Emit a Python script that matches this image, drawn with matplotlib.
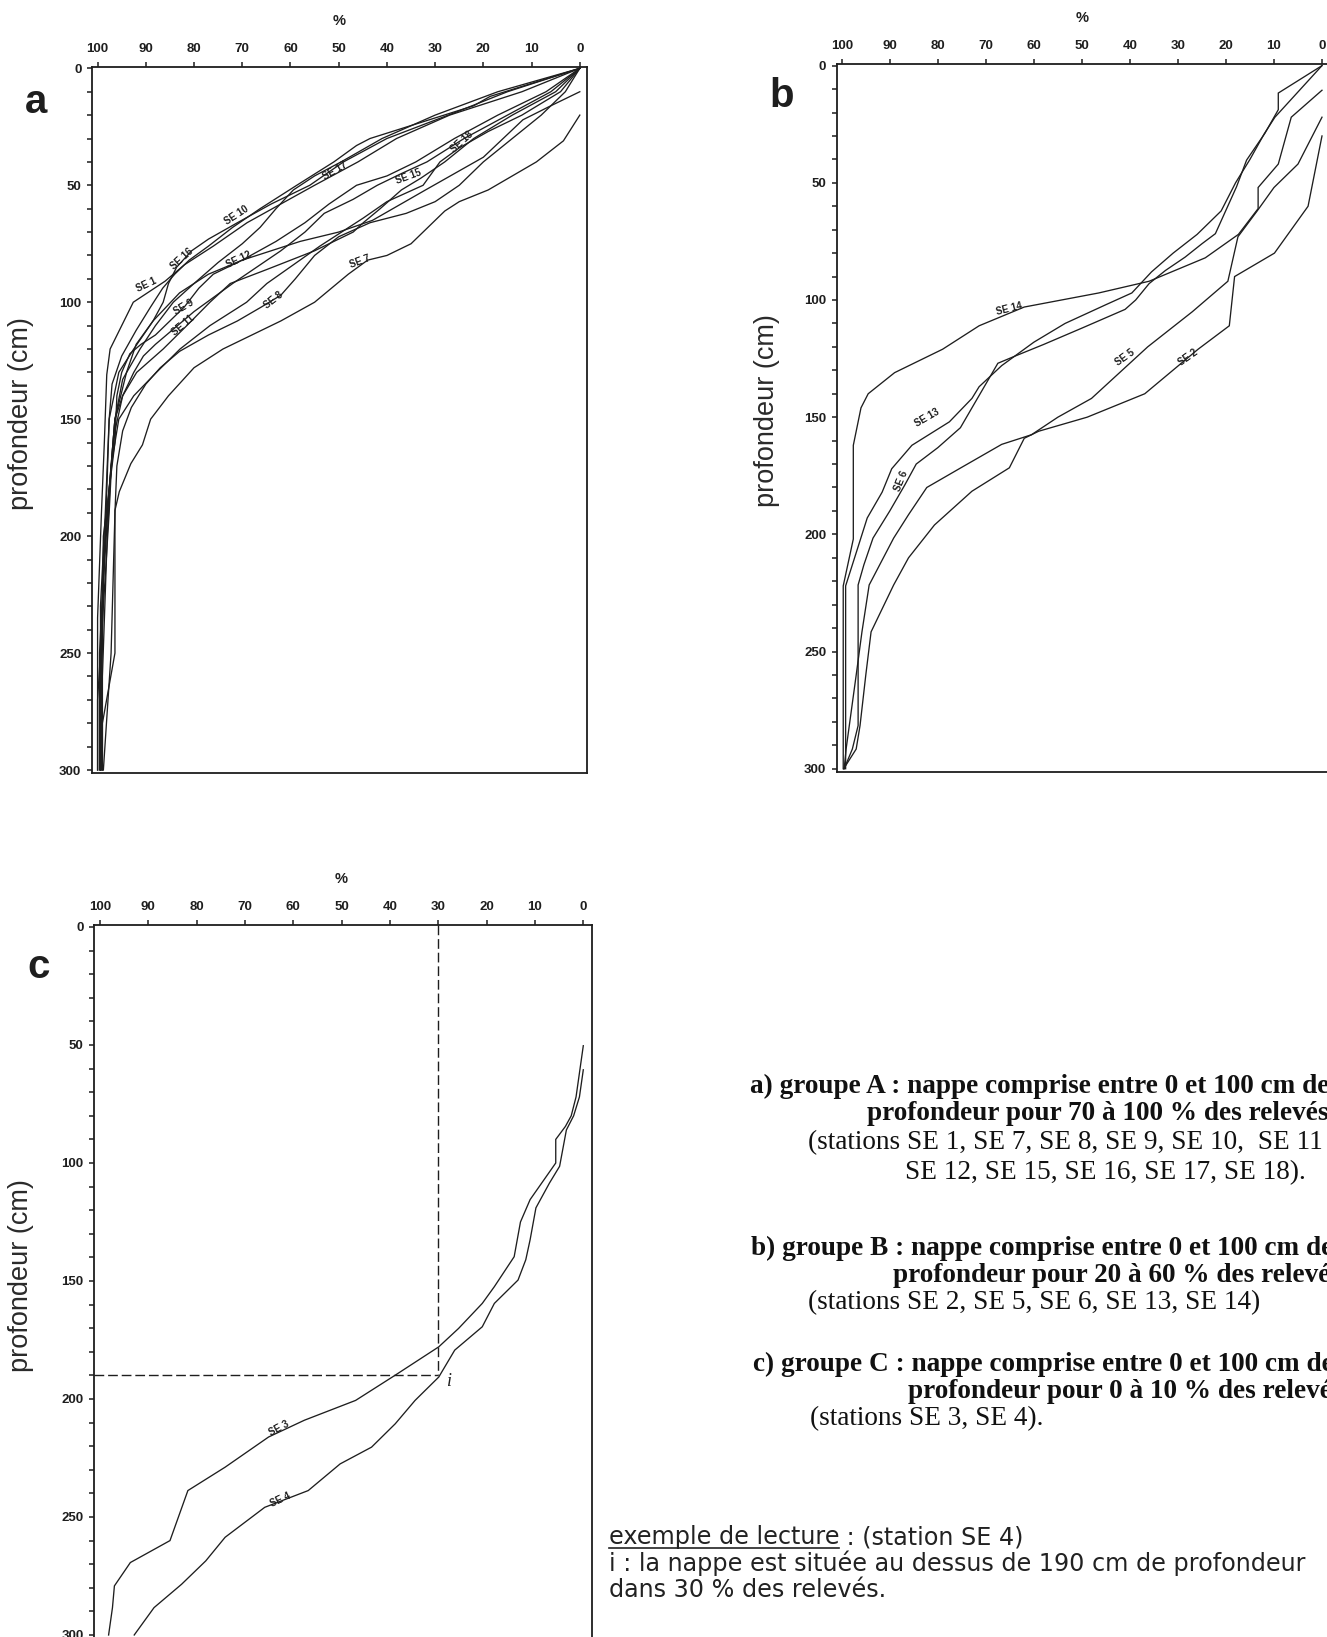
import matplotlib
matplotlib.use("Agg")
import matplotlib.pyplot as plt
from matplotlib.ticker import MultipleLocator
from matplotlib.lines import Line2D

plt.rcParams["font.family"] = ["Liberation Sans", "DejaVu Sans"]

# ---------------- panel a : groupe A (% of readings, depth in cm) ----------------
a_se1_pct = [0, 12, 27, 38, 46, 55, 62, 69, 76, 82, 86, 92.6, 97.4, 98.1, 98.6, 99.2, 100, 100]
a_se1_depth = [0, 10, 20, 30, 40, 50, 58, 66, 76, 84, 91, 100, 120, 131, 160, 190, 235, 300]
a_se7_pct = [0, 3.4, 9, 14, 19, 25, 28, 31, 35, 40, 44, 48, 55, 62, 68, 74, 80, 85.3, 89,
             90.7, 93.1, 95.5, 96.4, 96.4, 99, 99]
a_se7_depth = [20, 31, 40, 46, 52, 57, 61, 67, 75, 80, 82, 88, 100, 108, 114, 120, 128, 140, 150,
               161, 169, 181, 189, 250, 280, 300]
a_se8_pct = [0, 3, 8, 14, 20, 25, 30, 36, 43.5, 50, 55, 59, 62, 66, 71, 77, 83, 87, 90, 93, 94.8,
             96, 96.4, 97.2, 98.8]
a_se8_depth = [0, 10, 20, 30, 40, 50, 57, 62, 66, 72, 80, 90, 97, 102, 108, 114, 121, 128, 135, 145,
               155, 170, 190, 250, 300]
a_se9_pct = [0, 7, 17, 26, 34, 40, 46.3, 52, 57, 63, 70, 76, 79, 82, 85, 88, 91, 93.3, 95, 96, 96.4,
             97.6, 98.8, 99.4, 99.4]
a_se9_depth = [0, 10, 20, 30, 40, 46, 50, 58, 66, 74, 82, 88, 94, 102, 108, 114, 118, 122, 130, 140,
               160, 180, 210, 260, 300]
a_se10_pct = [0, 18.6, 22, 43.5, 46.3, 51, 58.7, 66.3, 72, 77, 81, 84, 86.5, 89, 92, 95, 97, 97.6,
              98.4, 99.4, 99.4]
a_se10_depth = [0, 12, 16, 30, 33, 40, 50, 60, 68, 76, 82, 88, 94, 102, 112, 123, 135, 150, 190, 230, 300]
a_se11_pct = [0, 6, 15, 24, 31.7, 37, 42, 47, 53, 57, 62, 67, 72, 76, 80, 84, 88, 90.5, 92.5, 94.8,
              96.4, 97, 97.6, 98.8, 100, 100]
a_se11_depth = [0, 10, 20, 30, 40, 45, 50, 56, 62, 70, 78, 85, 92, 98, 104, 111, 118, 123, 130, 140,
                150, 165, 190, 230, 270, 300]
a_se12_pct = [0, 6, 11.8, 20, 32, 43, 50, 58, 64, 70, 77, 83, 88.5, 92.5, 95.6, 97.6, 98.4, 99.4, 99.4]
a_se12_depth = [10, 16, 22, 38, 52, 65, 70, 74, 78, 82, 88, 96, 108, 120, 130, 150, 200, 250, 300]
a_se15_pct = [0, 5, 14, 22, 28, 33, 37, 41.4, 44.9, 47, 55, 64.9, 72.5, 76.7, 81.5, 86.4, 91.9, 94.8,
              96.4, 97.6, 98.8, 99.4]
a_se15_depth = [0, 10, 20, 30, 40, 47, 52, 60, 66, 70, 78, 86, 92, 100, 110, 120, 130, 140, 155, 180,
                220, 300]
a_se16_pct = [0, 15, 26, 40, 49, 56, 64, 71, 77, 80.5, 83.6, 85.3, 86.4, 88.5, 92, 94, 96.4, 97.6,
              98.8, 99.2, 99.2]
a_se16_depth = [0, 10, 19, 30, 40, 50, 58, 66, 73, 78, 85, 92, 100, 108, 118, 130, 150, 180, 200, 250, 300]
a_se17_pct = [0, 17, 30, 41, 49.5, 55, 59.4, 63, 66.3, 70, 75, 80, 84.3, 88, 91.2, 94.8, 96.4, 97.2,
              98.4, 99.6, 99.6]
a_se17_depth = [0, 10, 20, 30, 40, 46, 52, 60, 68, 75, 83, 92, 100, 110, 120, 133, 150, 170, 200, 250, 300]
a_se18_pct = [0, 4, 12, 19, 25, 29, 32.5, 40, 44.9, 53.9, 59.4, 64.9, 69.1, 76.7, 82.9, 87.8, 92.5,
              95.6, 97.2, 98, 99, 99]
a_se18_depth = [0, 10, 20, 27, 34, 40, 50, 57, 64, 76, 84, 92, 100, 110, 120, 130, 140, 150, 170, 200,
                260, 300]

# ---------------- panel b : groupe B ----------------
b_se2_pct = [0, 2.9, 9.9, 18.2, 19.3, 25.8, 36.9, 48.9, 59, 62, 65.1, 72.9, 80.7, 86.1, 89.2, 93.9,
             95, 96.2, 97, 99.6]
b_se2_depth = [30, 60, 80, 90, 111, 121, 140, 150, 156, 159, 171.6, 181.6, 196, 210, 221.6, 241.6,
               260, 281.6, 291.6, 300]
b_se5_pct = [0, 5, 10, 13.5, 17.5, 19.6, 27, 36.3, 48, 55, 60.5, 66.7, 75.2, 82.3, 86.1, 89.2, 94.3,
             95.8, 97, 99.1, 99.5]
b_se5_depth = [22, 42, 52, 62, 73, 92, 105, 120, 142, 150, 157.5, 161.6, 171.6, 180, 191.6, 201.6,
               221.6, 241.6, 260, 291.6, 300]
b_se6_pct = [0, 9.1, 9.1, 11.9, 15.7, 17.8, 22.2, 25, 28.5, 32.6, 36, 38.8, 41, 50, 58, 64, 67.5,
             75.3, 80, 84.5, 86.9, 90, 93.5, 95.4, 96.6, 96.6, 97.8, 99.5]
b_se6_depth = [0, 11.7, 18.8, 28.9, 40.3, 51.7, 71.7, 76, 81.7, 87.4, 93, 100, 104, 112, 119, 124, 127,
               154.5, 163, 170, 179, 190, 201.6, 213, 221.6, 281.6, 291.6, 300]
b_se13_pct = [0, 9.8, 12, 15, 18, 21, 26, 31, 35.5, 39.6, 45, 53.5, 60, 66.7, 71.4, 72.9, 77.6, 85.4,
              89.6, 91.6, 94.7, 97.8, 99.2, 99.2]
b_se13_depth = [0, 22, 29, 40, 50, 62, 72, 80, 88, 97, 102, 110, 118, 128, 137, 142, 152, 162, 172,
                182, 193, 213, 222, 300]
b_se14_pct = [0, 6.4, 9.1, 13.3, 13.3, 17.4, 24.3, 36, 46.5, 62, 71.4, 79, 89, 94.5, 96, 97.6, 97.6,
              99.7, 99.7]
b_se14_depth = [10.5, 22, 42, 52, 61, 72, 82, 92, 97, 103, 111, 121, 131, 140, 146, 162, 202, 222, 300]

# ---------------- panel c : groupe C ----------------
c_se3_pct = [0, 1.5, 2.5, 3.7, 5.7, 5.7, 11, 13, 14.3, 18.4, 20.9, 25.8, 29.9, 38.9, 47.1, 57.7, 65.1,
             74.1, 81.8, 85.5, 93.7, 97, 97.4, 98.2]
c_se3_depth = [50.3, 72, 80, 84.5, 90, 100, 115.5, 125, 139.7, 152.4, 159.5, 170.1, 177.9, 189.9,
               200.6, 209, 216.1, 228.9, 238.8, 260, 269.3, 279.2, 288.4, 300]
c_se4_pct = [0, 0.8, 2, 3.5, 4.9, 7, 9.8, 11, 11.9, 13.5, 18.4, 20.9, 26.6, 29.9, 34.8, 38.9, 43.8,
             50.3, 56.9, 65.9, 74.1, 78.1, 83.1, 88.8, 92.9]
c_se4_depth = [60.5, 72, 80, 86, 101.4, 108.5, 119, 132.5, 141, 149.6, 159.5, 169.4, 179.3, 190.7,
               200.6, 210.5, 220.4, 227.5, 238.8, 245.9, 258.6, 268.6, 278.5, 288.4, 300]

# reading example (station SE 4)
read_pct = 30
read_depth = 190

W, H = 1327, 1637
INK = "#1e1e1e"
fig = plt.figure(figsize=(W / 100, H / 100), dpi=100)


def add_panel(left, top, right, bottom, xlim, ylim):
    ax = fig.add_axes([left / W, 1 - bottom / H, (right - left) / W, (bottom - top) / H])
    ax.set_xlim(*xlim)
    ax.set_ylim(*ylim)
    ax.xaxis.tick_top()
    ax.xaxis.set_major_locator(MultipleLocator(10))
    ax.yaxis.set_major_locator(MultipleLocator(50))
    ax.yaxis.set_minor_locator(MultipleLocator(10))
    ax.tick_params(axis="both", which="both", direction="out", length=3.5, width=1.1,
                   color=INK, labelsize=9.5, labelcolor=INK)
    ax.tick_params(axis="x", pad=5)
    ax.tick_params(axis="y", pad=4)
    for lab in ax.get_xticklabels() + ax.get_yticklabels():
        lab.set_fontweight("bold")
    for s in ax.spines.values():
        s.set_linewidth(1.3)
        s.set_color(INK)
    ax.annotate("%", xy=(50, 1), xycoords=("data", "axes fraction"), xytext=(0, 46),
                textcoords="offset pixels", ha="center", va="center", fontsize=10.5,
                fontweight="bold", color=INK)
    return ax


def curve(ax, pct, depth, label=None, lx=None, ly=None, rot=0):
    ax.plot(pct, depth, color=INK, lw=0.95, solid_joinstyle="miter")
    if label:
        ax.text(lx, ly, label, fontsize=7, fontweight="bold", rotation=rot,
                ha="center", va="center", color=INK)


def fig_text(x, y, s, **kw):
    return fig.text(x / W, 1 - y / H, s, **kw)


# ---- panel a ----
ax_a = add_panel(91.8, 66.7, 586.7, 773.3, (101.2, -1.43), (301.4, -0.7))
curve(ax_a, a_se1_pct, a_se1_depth, "SE 1", 89.8, 92.7, 25)
curve(ax_a, a_se7_pct, a_se7_depth, "SE 7", 45.6, 82.7, 20)
curve(ax_a, a_se8_pct, a_se8_depth, "SE 8", 63.6, 99, 38)
curve(ax_a, a_se9_pct, a_se9_depth, "SE 9", 82.2, 101.9, 30)
curve(ax_a, a_se10_pct, a_se10_depth, "SE 10", 71.2, 62.8, 33)
curve(ax_a, a_se11_pct, a_se11_depth, "SE 11", 82.2, 109.7, 40)
curve(ax_a, a_se12_pct, a_se12_depth, "SE 12", 70.8, 82, 25)
curve(ax_a, a_se15_pct, a_se15_depth, "SE 15", 35.6, 46.5, 20)
curve(ax_a, a_se16_pct, a_se16_depth, "SE 16", 82.6, 81.3, 42)
curve(ax_a, a_se17_pct, a_se17_depth, "SE 17", 50.8, 43.6, 30)
curve(ax_a, a_se18_pct, a_se18_depth, "SE 18", 24.5, 31.6, 42)

# ---- panel b (right edge runs off the sheet) ----
ax_b = add_panel(836.6, 64.0, 1329.0, 772.0, (101.08, -1.46), (301.4, -0.7))
curve(ax_b, b_se2_pct, b_se2_depth, "SE 2", 27.9, 124.5, 35)
curve(ax_b, b_se5_pct, b_se5_depth, "SE 5", 41.1, 124.5, 35)
curve(ax_b, b_se6_pct, b_se6_depth, "SE 6", 87.7, 177.3, 68)
curve(ax_b, b_se13_pct, b_se13_depth, "SE 13", 82.2, 150.2, 30)
curve(ax_b, b_se14_pct, b_se14_depth, "SE 14", 65.2, 103.8, 14)

# ---- panel c ----
ax_c = add_panel(94.1, 925.3, 592.0, 1639.0, (101.2, -1.8), (301.7, -0.72))
curve(ax_c, c_se3_pct, c_se3_depth, "SE 3", 63, 212.4, 28)
curve(ax_c, c_se4_pct, c_se4_depth, "SE 4", 62.6, 242.8, 25)
ax_c.plot([read_pct, read_pct], [ax_c.get_ylim()[1], read_depth], color=INK, lw=1.0,
          dashes=(7, 2.8))
ax_c.plot([ax_c.get_xlim()[0], read_pct], [read_depth, read_depth], color=INK, lw=1.0,
          dashes=(7, 2.8))
ax_c.text(read_pct - 2.3, read_depth + 2.5, "i", fontsize=13, style="italic",
          family=["Liberation Serif"], ha="center", va="center", color=INK)

# ---- panel letters and depth labels ----
for (x, y, s) in [(36, 102, "a"), (782, 96, "b"), (39, 967, "c")]:
    fig_text(x, y, s, fontsize=29, fontweight="bold", ha="center", va="center", color=INK)
for (x, y) in [(21, 414), (767, 411), (21, 1276)]:
    fig_text(x, y, "profondeur (cm)", fontsize=19.5, rotation=90, ha="center", va="center",
             color="#2a2a2a")

# ---- legend text ----
serif = ["Liberation Serif", "DejaVu Serif"]
blocks = [
    (750, 1086, "a) groupe A : nappe comprise entre 0 et 100 cm de", "bold"),
    (867, 1114, "profondeur pour 70 à 100 % des relevés", "bold"),
    (808, 1143, "(stations SE 1, SE 7, SE 8, SE 9, SE 10,  SE 11", "normal"),
    (905, 1173, "SE 12, SE 15, SE 16, SE 17, SE 18).", "normal"),
    (751, 1248, "b) groupe B : nappe comprise entre 0 et 100 cm de", "bold"),
    (893, 1276, "profondeur pour 20 à 60 % des relevés", "bold"),
    (808, 1303, "(stations SE 2, SE 5, SE 6, SE 13, SE 14)", "normal"),
    (753, 1364, "c) groupe C : nappe comprise entre 0 et 100 cm de", "bold"),
    (908, 1391, "profondeur pour 0 à 10 % des relevés", "bold"),
    (810, 1419, "(stations SE 3, SE 4).", "normal"),
]
for x, y, s, w in blocks:
    fig_text(x, y, s, fontsize=19.6, family=serif, fontweight=w, ha="left", va="center",
             color="#111111")

# wide sans face so the long lines keep their length without crowding vertically
sans_kw = dict(fontsize=17.2, family=["DejaVu Sans"], ha="left", va="center", color="#222222")
t_ex = fig_text(609, 1537, "exemple de lecture", **sans_kw)
renderer = fig.canvas.get_renderer()
bb = t_ex.get_window_extent(renderer)
fig.add_artist(Line2D([bb.x0 / W, bb.x1 / W], [(bb.y0 + 1) / H, (bb.y0 + 1) / H],
                      transform=fig.transFigure, color="#222222", lw=1.2))
fig_text(bb.x1, 1537, " : (station SE 4)", **sans_kw)
fig_text(609, 1563, "i : la nappe est située au dessus de 190 cm de profondeur", **sans_kw)
fig_text(609, 1590, "dans 30 % des relevés.", **sans_kw)

fig.savefig("out.png", dpi=100, facecolor="white")
